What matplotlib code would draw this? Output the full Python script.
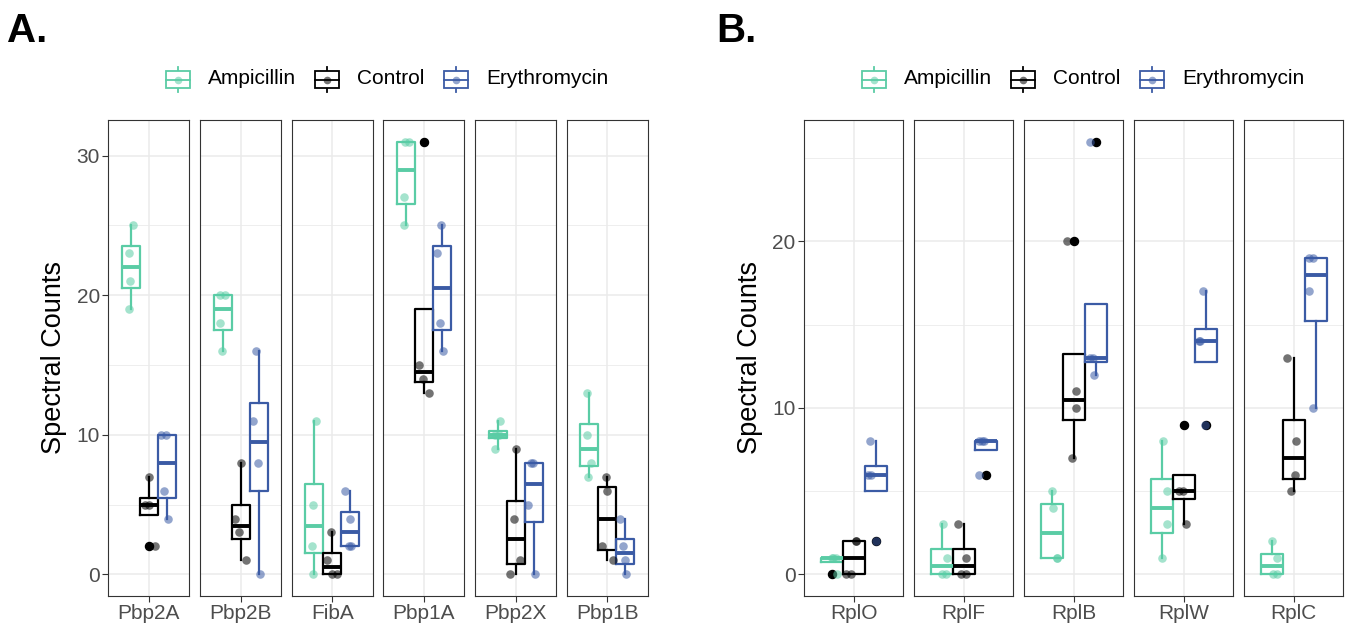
import matplotlib
matplotlib.use("Agg")
import matplotlib.pyplot as plt
import numpy as np
from matplotlib.legend_handler import HandlerBase
from matplotlib.patches import Rectangle
from matplotlib.lines import Line2D

plt.rcParams['font.family'] = ['Liberation Sans', 'DejaVu Sans']

# ---------------- data ----------------
treatments = ["Ampicillin", "Control", "Erythromycin"]
colors = {"Ampicillin": "#5ACCA5", "Control": "#000000", "Erythromycin": "#3B5BA5"}

proteins_A = ["Pbp2A", "Pbp2B", "FibA", "Pbp1A", "Pbp2X", "Pbp1B"]
amp_A = [[25, 23, 21, 19], [20, 20, 18, 16], [11, 5, 2, 0], [31, 31, 27, 25], [11, 10, 10, 9], [13, 10, 8, 7]]
ctl_A = [[7, 5, 5, 2], [8, 4, 3, 1], [3, 1, 0, 0], [31, 15, 14, 13], [9, 4, 1, 0], [7, 6, 2, 1]]
ery_A = [[10, 10, 6, 4], [16, 11, 8, 0], [6, 4, 2, 2], [25, 23, 18, 16], [8, 8, 5, 0], [4, 2, 1, 0]]
# horizontal jitter of the replicate points
jit_amp_A = [[0.035, -0.025, -0.01, -0.025], [-0.04, 0.035, -0.03, -0.01], [0.03, -0.025, -0.035, -0.015],
             [-0.01, 0.04, -0.035, -0.03], [0.03, -0.035, 0.025, -0.035], [-0.035, -0.04, 0.03, -0.02]]
jit_ctl_A = [[0.0, -0.055, 0.0, 0.085], [0.005, -0.08, -0.015, 0.08], [-0.025, -0.07, 0.0, 0.075],
             [0.0, -0.075, -0.02, 0.08], [0.0, -0.02, 0.07, -0.08], [-0.02, 0.0, -0.08, 0.08]]
jit_ery_A = [[-0.084, -0.015, -0.035, 0.015], [-0.03, -0.075, -0.01, 0.025], [-0.075, -0.01, -0.025, 0.01],
             [-0.015, -0.075, -0.03, 0.015], [-0.04, -0.01, -0.08, 0.015], [-0.085, -0.03, -0.01, 0.015]]

proteins_B = ["RplO", "RplF", "RplB", "RplW", "RplC"]
amp_B = [[1, 1, 1, 0], [3, 1, 0, 0], [5, 4, 1, 1], [8, 5, 3, 1], [2, 1, 0, 0]]
ctl_B = [[2, 2, 0, 0], [3, 1, 0, 0], [20, 11, 10, 7], [9, 5, 5, 3], [13, 8, 6, 5]]
ery_B = [[8, 6, 6, 2], [8, 8, 8, 6], [26, 13, 13, 12], [17, 14, 14, 9], [19, 19, 17, 10]]
jit_amp_B = [[0.01, 0.05, 0.02, 0.07], [0.02, 0.07, 0.0, 0.05], [0.01, 0.02, 0.07, 0.07],
             [0.02, 0.065, 0.07, 0.005], [0.0, 0.07, 0.015, 0.07]]
jit_ctl_B = [[0.03, 0.035, -0.09, -0.03], [-0.07, 0.025, -0.03, 0.03], [-0.08, 0.03, 0.025, -0.02],
             [0.01, -0.05, -0.01, 0.03], [-0.08, 0.03, 0.02, -0.03]]
jit_ery_B = [[-0.07, -0.09, -0.05, 0.0], [-0.08, -0.04, -0.02, -0.08], [-0.07, -0.07, -0.03, -0.02],
             [-0.03, -0.08, -0.07, -0.01], [-0.08, -0.03, -0.08, -0.03]]

# ---------------- layout ----------------
W, H = 1350, 628
fig = plt.figure(figsize=(W / 100, H / 100), dpi=100)

BOX_W = 0.8 / 3
OFFS = [-BOX_W, 0.0, BOX_W]
GRID = "#EBEBEB"
BORDER = "#333333"
TXT = "#4D4D4D"
LW = 1.6


class BoxHandler(HandlerBase):
    def create_artists(self, legend, orig_handle, xdescent, ydescent, width, height, fontsize, trans):
        c = orig_handle.get_color()
        h = height
        x0, y0 = -xdescent, -ydescent - 0.1 * h
        cx = x0 + width / 2
        b0, b1 = y0 + 0.17 * h, y0 + 0.83 * h
        rect = Rectangle((x0, b0), width, b1 - b0, facecolor="white", edgecolor=c, lw=1.3, transform=trans)
        w1 = Line2D([cx, cx], [y0, b0], color=c, lw=1.3, transform=trans)
        w2 = Line2D([cx, cx], [b1, y0 + h], color=c, lw=1.3, transform=trans)
        med = Line2D([x0, x0 + width], [y0 + 0.5 * h] * 2, color=c, lw=1.3, transform=trans)
        pt = Line2D([cx], [y0 + 0.5 * h], marker="o", ms=5.5, color=c, alpha=0.55, lw=0,
                    markeredgewidth=0, transform=trans)
        return [w1, w2, rect, med, pt]


def px_axes(left, top, width, height):
    return fig.add_axes([left / W, 1 - (top + height) / H, width / W, height / H])


def draw_panel(proteins, groups, jitters, left0, facet_w, gap, ylabel_x, label, label_x, legend_cx):
    allv = [v for g in groups for f in g for v in f]
    lo, hi = min(allv), max(allv)
    pad = 0.05 * (hi - lo)
    ylim = (lo - pad, hi + pad)
    top, height = 120, 476
    for i, prot in enumerate(proteins):
        ax = px_axes(left0 + i * (facet_w + gap), top, facet_w, height)
        ax.set_xlim(0.4, 1.6)
        ax.set_ylim(*ylim)
        ax.set_yticks([0, 10, 20, 30] if hi > 27 else [0, 10, 20])
        ax.set_yticks([5, 15, 25], minor=True)
        ax.set_xticks([1])
        ax.set_xticklabels([prot])
        ax.grid(True, which="major", color=GRID, lw=1.1, zorder=0)
        ax.grid(True, which="minor", axis="y", color=GRID, lw=0.6, zorder=0)
        ax.set_axisbelow(True)
        for s in ax.spines.values():
            s.set_color(BORDER)
            s.set_linewidth(0.8)
        ax.tick_params(axis="both", which="major", length=4, width=0.8, color=BORDER,
                       labelsize=15, labelcolor=TXT, pad=2)
        ax.tick_params(axis="y", which="minor", length=0)
        if i > 0:
            ax.tick_params(axis="y", which="major", length=0, labelleft=False)
        for k, tr in enumerate(treatments):
            vals = groups[k][i]
            jit = jitters[k][i]
            pos = 1 + OFFS[k]
            c = colors[tr]
            ax.boxplot([vals], positions=[pos], widths=BOX_W, showcaps=False, manage_ticks=False,
                       boxprops=dict(color=c, lw=LW),
                       whiskerprops=dict(color=c, lw=LW),
                       medianprops=dict(color=c, lw=2.8, solid_capstyle="butt"),
                       flierprops=dict(marker="o", markerfacecolor="black", markeredgecolor="black",
                                       markersize=5.8), zorder=2)
            ax.scatter(pos + np.array(jit), vals, s=38, color=c, alpha=0.55, lw=0, zorder=3)
    fig.text(ylabel_x / W, 1 - 358 / H, "Spectral Counts", rotation=90, fontsize=19.5,
             ha="center", va="center", color="black")
    fig.text(label_x / W, 1 - 42 / H, label, fontsize=29, fontweight="bold", ha="left",
             va="baseline", color="black")
    handles = [Line2D([], [], color=colors[t]) for t in treatments]
    fig.legend(handles, treatments, handler_map={Line2D: BoxHandler()}, ncol=3,
               loc="center", bbox_to_anchor=(legend_cx / W, 1 - 77 / H), frameon=False,
               fontsize=15, handlelength=1.15, handleheight=1.5, handletextpad=0.85,
               columnspacing=0.95, borderaxespad=0, borderpad=0)


draw_panel(proteins_A, [amp_A, ctl_A, ery_A], [jit_amp_A, jit_ctl_A, jit_ery_A],
           108.3, 81.0, 10.7, 54, "A.", 7, 387)
draw_panel(proteins_B, [amp_B, ctl_B, ery_B], [jit_amp_B, jit_ctl_B, jit_ery_B],
           804.0, 99.0, 11.0, 750, "B.", 716, 1083)

fig.savefig("out.png", dpi=100)
